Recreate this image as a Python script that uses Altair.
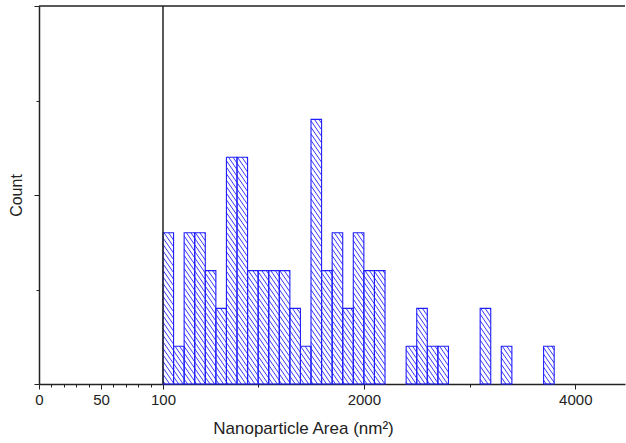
import math
import altair as alt
import pandas as pd

# ---- data ----
bin_start = [100, 200, 300, 400, 500, 600, 700, 800, 900, 1000, 1100, 1200, 1300,
             1400, 1500, 1600, 1700, 1800, 1900, 2000, 2100,
             2400, 2500, 2600, 2700, 3100, 3300, 3700]
counts = [4, 1, 4, 4, 3, 2, 6, 6, 3, 3, 3, 3, 2,
          1, 7, 3, 4, 2, 4, 3, 3,
          1, 2, 1, 1, 2, 1, 1]
BIN_W = 100

x_major = [0, 50, 100, 2000, 4000]
x_minor = [10, 20, 30, 40, 60, 70, 80, 90, 1000, 3000]
y_major = [0, 5, 10]
y_minor = [2.5, 7.5]

X_BREAK = 100
X_END = 4470
Y_MAX = 10

# ---- layout ----
W, H = 586, 378
LEFT_W = 124
BLUE = "#1f1fff"
INK = "#222222"
FONT = "Liberation Sans"

bars = pd.DataFrame({"start": bin_start, "count": counts})
bars["end"] = bars["start"] + BIN_W


# hatch pattern: diagonal lines (down to the right) clipped to each bar
def px(x):
    if x <= X_BREAK:
        return x / X_BREAK * LEFT_W
    return LEFT_W + (x - X_BREAK) / (X_END - X_BREAK) * (W - LEFT_W)


def unpx(X):
    return X_BREAK + (X - LEFT_W) / (W - LEFT_W) * (X_END - X_BREAK)


def py(c):
    return H - c / Y_MAX * H


def unpy(Y):
    return (H - Y) / H * Y_MAX


SLOPE = 1.45
SPACING = 6.5
segs = []
for b, c in zip(bin_start, counts):
    X0, X1 = px(b), px(b + BIN_W)
    Yt, Yb = py(c), py(0)
    k0 = math.ceil((Yt - SLOPE * X1) / SPACING)
    k1 = math.floor((Yb - SLOPE * X0) / SPACING)
    for k in range(k0, k1 + 1):
        off = k * SPACING
        xa = max(X0, (Yt - off) / SLOPE)
        xb = min(X1, (Yb - off) / SLOPE)
        if xb - xa > 0.3:
            segs.append({"x": unpx(xa), "y": unpy(SLOPE * xa + off),
                         "x2": unpx(xb), "y2": unpy(SLOPE * xb + off)})
hatch = pd.DataFrame(segs)

xscale = alt.Scale(domain=[0, X_BREAK, X_END], range=[0, LEFT_W, W], nice=False, zero=False)
yscale = alt.Scale(domain=[0, Y_MAX], nice=False, zero=True)


def in_list(vals):
    return "indexof([" + ",".join(str(v) for v in vals) + "], datum.value) >= 0"


x_axis = alt.Axis(
    values=x_major + x_minor,
    format="d",
    labelExpr=in_list(x_major) + " ? datum.label : ''",
    tickSize={"condition": {"test": in_list(x_major), "value": 5}, "value": 3},
    labelFlush=False, labelOverlap=False,
    grid=False, domainColor=INK, domainWidth=1.5, tickColor=INK, tickWidth=1,
    labelFont=FONT, labelFontSize=15, labelColor=INK, labelPadding=3,
    title="Nanoparticle Area (nm²)", titleFont=FONT, titleFontSize=17,
    titleFontWeight="normal", titleColor=INK,
    titleX=264, titleY=49, titleBaseline="alphabetic", titleAlign="center",
)
y_axis = alt.Axis(
    values=y_major + y_minor,
    labels=False,
    tickSize={"condition": {"test": in_list(y_major), "value": 5}, "value": 3},
    grid=False, domainColor=INK, domainWidth=1.5, tickColor=INK, tickWidth=1,
    title="Count", titleFont=FONT, titleFontSize=16, titleFontWeight="normal",
    titleColor=INK, titlePadding=9,
)

hatch_layer = alt.Chart(hatch).mark_rule(color=BLUE, strokeWidth=0.9).encode(
    x=alt.X("x:Q", scale=xscale, axis=x_axis),
    x2="x2:Q",
    y=alt.Y("y:Q", scale=yscale, axis=y_axis),
    y2="y2:Q",
)

bar_layer = alt.Chart(bars).mark_rect(fill="transparent", stroke=BLUE, strokeWidth=1.1).encode(
    x=alt.X("start:Q", scale=xscale, axis=x_axis),
    x2="end:Q",
    y=alt.Y("count:Q", scale=yscale, axis=y_axis),
    y2=alt.datum(0),
)

break_line = alt.Chart(pd.DataFrame({"v": [X_BREAK]})).mark_rule(color=INK, strokeWidth=1.5).encode(
    x=alt.X("v:Q", scale=xscale, axis=x_axis)
)
top_line = alt.Chart(pd.DataFrame({"v": [Y_MAX]})).mark_rule(color=INK, strokeWidth=1.5).encode(
    y=alt.Y("v:Q", scale=yscale, axis=y_axis)
)

chart = alt.layer(hatch_layer, bar_layer, break_line, top_line).properties(
    width=W, height=H,
    autosize=alt.AutoSizeParams(type="none"),
    padding={"left": 39, "top": 6, "right": 1, "bottom": 59},
    background="white",
).configure_view(stroke=None)

chart.save("out.html", embed_options={"renderer": "svg", "actions": False})
